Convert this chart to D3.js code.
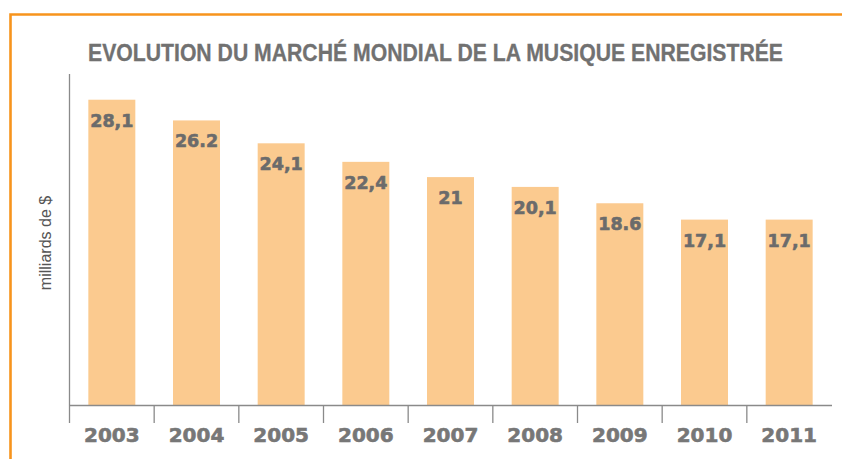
<!DOCTYPE html>
<html>
<head>
<meta charset="utf-8">
<script src="https://cdn.jsdelivr.net/npm/d3@7"></script>
<style>
    body { margin: 0; background: #fff; }
    svg { display: block; }
</style>
</head>
<body>
<div id="chart"></div>
<script>
var years = ['2003', '2004', '2005', '2006', '2007', '2008', '2009', '2010', '2011'];
var sales = [28.1, 26.2, 24.1, 22.4, 21, 20.1, 18.6, 17.1, 17.1];
var salesLabels = ['28,1', '26.2', '24,1', '22,4', '21', '20,1', '18.6', '17,1', '17,1'];
var title = 'EVOLUTION DU MARCHÉ MONDIAL DE LA MUSIQUE ENREGISTRÉE';
var yTitle = 'milliards de $';

var width = 842, height = 459;
var grey = '#717171';

var svg = d3.select('#chart').append('svg')
    .attr('width', width)
    .attr('height', height);

// orange frame (open on the right and bottom)
svg.append('path')
    .attr('d', 'M10.5,' + height + 'V14.5H' + width)
    .attr('fill', 'none')
    .attr('stroke', '#f7941d')
    .attr('stroke-width', 2.6);

var x = d3.scaleBand()
    .domain(years)
    .range([69.5, 831.5])
    .paddingInner(0.445)
    .paddingOuter(0.2225);

var y = d3.scaleLinear()
    .domain([0, 30])
    .range([406, 79]);

svg.append('text')
    .attr('x', 435.5)
    .attr('y', 61)
    .attr('text-anchor', 'middle')
    .attr('textLength', 695)
    .attr('lengthAdjust', 'spacingAndGlyphs')
    .style('font-family', '"Liberation Sans Narrow", "Liberation Sans", sans-serif')
    .style('font-weight', 'bold')
    .style('font-size', '23px')
    .attr('fill', grey)
    .attr('stroke', grey)
    .attr('stroke-width', 0.3)
    .text(title);

// bars
svg.selectAll('rect.bar')
    .data(years)
    .enter().append('rect')
    .attr('class', 'bar')
    .attr('x', function (d) { return x(d); })
    .attr('y', function (d, i) { return y(sales[i]); })
    .attr('width', x.bandwidth())
    .attr('height', function (d, i) { return y(0) - y(sales[i]); })
    .attr('fill', '#fbca8f');

svg.selectAll('text.val')
    .data(years)
    .enter().append('text')
    .attr('class', 'val')
    .attr('x', function (d) { return x(d) + x.bandwidth() / 2; })
    .attr('y', function (d, i) { return y(sales[i]) + 27; })
    .attr('text-anchor', 'middle')
    .style('font-family', '"DejaVu Sans", sans-serif')
    .style('font-weight', 'bold')
    .style('font-size', '17.5px')
    .attr('fill', '#6b6b6b')
    .attr('stroke', '#6b6b6b')
    .attr('stroke-width', 0.6)
    .text(function (d, i) { return salesLabels[i]; });

// axes
var gap = (x.step() - x.bandwidth()) / 2;
var axisColor = '#8a8a8a';

svg.append('line')
    .attr('x1', 69.5).attr('x2', 69.5)
    .attr('y1', 74).attr('y2', y(0))
    .attr('stroke', axisColor).attr('stroke-width', 1.3);

svg.append('line')
    .attr('x1', 69.5).attr('x2', 832)
    .attr('y1', y(0) - 0.5).attr('y2', y(0) - 0.5)
    .attr('stroke', axisColor).attr('stroke-width', 1.3);

svg.selectAll('line.tick')
    .data(years)
    .enter().append('line')
    .attr('class', 'tick')
    .attr('x1', function (d) { return x(d) - gap; })
    .attr('x2', function (d) { return x(d) - gap; })
    .attr('y1', y(0)).attr('y2', y(0) + 17)
    .attr('stroke', axisColor).attr('stroke-width', 1.3);

svg.selectAll('text.year')
    .data(years)
    .enter().append('text')
    .attr('class', 'year')
    .attr('x', function (d) { return x(d) + x.bandwidth() / 2; })
    .attr('y', 441.5)
    .attr('text-anchor', 'middle')
    .style('font-family', '"DejaVu Sans", sans-serif')
    .style('font-weight', 'bold')
    .style('font-size', '20px')
    .attr('fill', '#777')
    .attr('stroke', '#777')
    .attr('stroke-width', 0.6)
    .text(function (d) { return d; });

svg.append('text')
    .attr('transform', 'translate(51,243) rotate(-90)')
    .attr('text-anchor', 'middle')
    .style('font-family', '"Liberation Sans", Arial, sans-serif')
    .style('font-size', '16px')
    .attr('fill', '#555')
    .text(yTitle);
</script>
</body>
</html>
